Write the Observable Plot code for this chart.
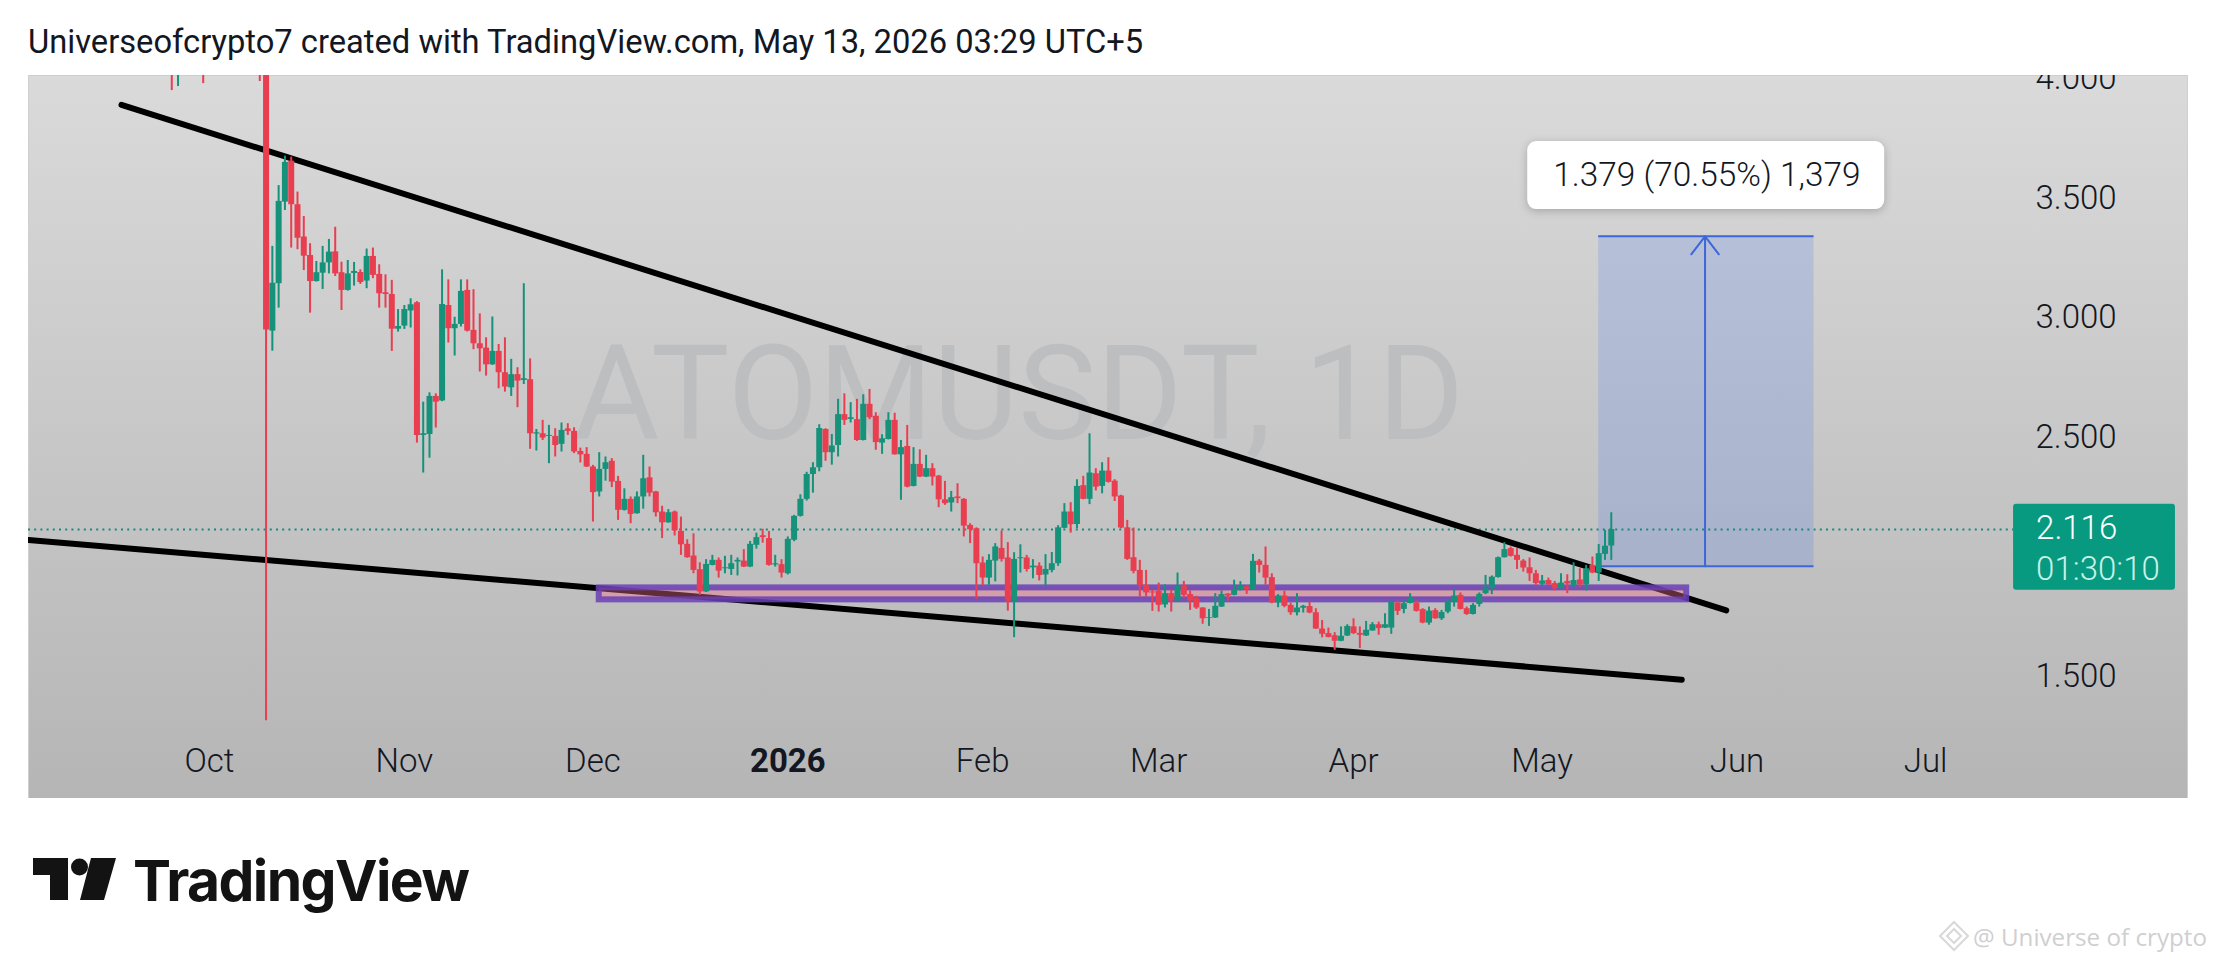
<!DOCTYPE html>
<html><head><meta charset="utf-8">
<script src="https://cdn.jsdelivr.net/npm/d3@7"></script>
<script src="https://cdn.jsdelivr.net/npm/@observablehq/plot@0.6"></script>
<style>
html,body{margin:0;padding:0;background:#fff;overflow:hidden}
#title{height:75px;box-sizing:border-box;padding:24px 0 0 28px;font:400 32.7px/36px Roboto,sans-serif;color:#131722;white-space:nowrap}
#chart{height:723px}
#chart svg{display:block}
#footer{position:relative;height:165px}
#footer .brand{position:absolute;left:133px;top:50px;font:700 57px/66px Inter,sans-serif;letter-spacing:-1.6px;color:#131313}
#footer svg{position:absolute}
#footer .wm{position:absolute;right:8px;top:125px;font:400 24.2px/28px "Open Sans",sans-serif;color:#cfcfcf;white-space:nowrap}
</style></head><body>
<div id="title">Universeofcrypto7 created with TradingView.com, May 13, 2026 03:29 UTC+5</div>
<div id="chart"></div>
<div id="footer">
<svg style="left:32px;top:60px" width="86" height="44" viewBox="0 0 86 44"><path d="M1 0H36V42H18V17H1Z M59 0H84L72 42H48Z" fill="#131313"/><circle cx="47.500" cy="9" r="8.500" fill="#131313"/></svg>
<div class="brand">TradingView</div>
<svg style="left:1938px;top:122px" width="32" height="32" viewBox="0 0 32 32" fill="none" stroke="#d8d8d8" stroke-width="2"><path d="M16 2L30 16L16 30L2 16Z M16 9L23 16L16 23L9 16Z"/></svg>
<div class="wm">@ Universe of crypto</div>
</div>
<script>
const startDate = Date.UTC(2025, 9, 10);
const opens = [
4.15,2.945,3.143,3.484,3.655,3.473,3.338,3.261,3.152,3.187,3.230,3.276,3.189,3.115,3.186,3.190,3.154,3.257,3.182,3.105,3.098,2.953,
2.966,3.029,3.063,2.509,2.513,2.672,2.653,3.052,2.955,2.973,3.115,2.948,2.892,2.874,2.804,2.860,2.771,2.708,2.763,2.739,2.742,2.515,2.516,2.505,2.505,2.472,2.536,2.526,2.442,2.430,
2.377,2.273,2.367,2.401,2.317,2.196,2.242,2.182,2.252,2.332,2.273,2.189,2.144,2.189,2.108,2.054,2.005,1.948,1.855,1.966,1.987,1.952,1.949,1.980,1.984,1.959,2.050,2.090,2.078,1.968,1.969,
1.931,2.071,2.171,2.242,2.346,2.374,2.534,2.437,2.467,2.596,2.576,2.575,2.488,2.639,2.589,2.477,2.492,2.572,2.428,2.463,2.296,2.388,2.335,2.370,2.339,2.240,2.227,2.252,2.242,2.133,2.119,
1.976,1.913,1.984,2.037,1.997,1.816,1.994,1.997,1.956,1.963,1.926,1.945,1.973,2.121,2.189,2.137,2.299,2.242,2.349,2.296,2.360,2.318,2.256,2.123,1.998,1.945,1.883,1.855,
1.858,1.801,1.848,1.817,1.879,1.844,1.827,1.788,1.745,1.746,1.792,1.846,1.841,1.862,1.876,1.865,1.984,1.966,1.915,1.809,1.838,1.799,1.768,1.787,1.794,1.768,1.700,1.681,1.672,1.649,1.671,
1.709,1.682,1.671,1.692,1.718,1.704,1.704,1.809,1.782,1.807,1.809,1.781,1.725,1.777,1.743,1.771,1.813,1.841,1.785,1.761,1.803,1.848,1.869,1.915,1.998,2.036,2.008,1.984,1.956,1.931,
1.887,1.903,1.890,1.869,1.899,1.883,1.905,1.885,1.966,1.934,2.012,2.047];
const highs = [
4.2,3.299,3.553,3.676,3.672,3.526,3.424,3.310,3.236,3.299,3.328,3.379,3.233,3.240,3.232,3.201,3.288,3.292,3.222,3.180,3.157,3.035,
3.052,3.080,3.068,2.648,2.687,2.683,3.201,3.159,3.003,3.159,3.159,3.118,3.017,2.917,3.004,2.889,2.917,2.827,2.792,3.143,2.829,2.534,2.572,2.551,2.537,2.561,2.558,2.541,2.456,2.458,
2.384,2.437,2.419,2.412,2.338,2.286,2.252,2.273,2.426,2.377,2.275,2.213,2.199,2.193,2.168,2.073,2.098,1.977,1.990,2.008,1.997,2.004,2.008,1.997,2.032,2.066,2.101,2.117,2.108,2.008,1.990,
2.085,2.175,2.261,2.355,2.395,2.554,2.537,2.513,2.660,2.683,2.646,2.660,2.679,2.701,2.604,2.512,2.604,2.602,2.488,2.551,2.458,2.449,2.426,2.391,2.342,2.317,2.275,2.307,2.245,2.140,2.123,
2.001,2.011,2.057,2.110,2.061,2.019,2.052,2.008,1.990,1.977,2.011,2.020,2.132,2.224,2.228,2.324,2.338,2.516,2.370,2.395,2.416,2.324,2.259,2.154,2.122,1.987,1.945,1.862,
1.892,1.885,1.862,1.934,1.899,1.859,1.837,1.789,1.782,1.848,1.859,1.848,1.904,1.898,1.879,2.012,1.991,2.043,1.931,1.844,1.858,1.809,1.848,1.799,1.813,1.785,1.736,1.704,1.685,1.709,1.718,
1.743,1.709,1.732,1.727,1.729,1.764,1.816,1.816,1.820,1.848,1.817,1.785,1.792,1.785,1.778,1.820,1.866,1.851,1.792,1.806,1.851,1.924,1.922,2.001,2.061,2.043,2.036,1.990,1.997,1.945,
1.924,1.913,1.899,1.931,1.927,1.977,1.952,1.966,2.001,2.053,2.112,2.186];
const lows = [
1.317,2.861,3.041,3.449,3.292,3.285,3.198,3.020,3.150,3.119,3.184,3.173,3.031,3.112,3.133,3.140,3.122,3.164,3.041,3.041,2.860,2.941,
2.952,2.958,2.477,2.352,2.414,2.540,2.650,2.895,2.841,2.962,2.941,2.867,2.774,2.757,2.802,2.704,2.690,2.672,2.625,2.722,2.451,2.444,2.488,2.391,2.419,2.440,2.509,2.433,2.394,2.375,
2.147,2.252,2.318,2.291,2.154,2.193,2.140,2.180,2.201,2.252,2.168,2.078,2.142,2.089,2.008,1.996,1.931,1.841,1.853,1.964,1.913,1.931,1.924,1.922,1.957,1.957,2.034,2.059,1.963,1.959,1.913,
1.926,2.065,2.168,2.235,2.268,2.357,2.401,2.385,2.419,2.551,2.561,2.484,2.486,2.575,2.447,2.430,2.490,2.427,2.238,2.290,2.294,2.333,2.333,2.298,2.207,2.217,2.189,2.224,2.085,2.057,1.824,
1.880,1.883,1.897,1.980,1.775,1.664,1.934,1.938,1.910,1.901,1.880,1.935,1.962,2.119,2.101,2.119,2.240,2.220,2.277,2.265,2.310,2.233,2.119,1.987,1.931,1.834,1.834,1.774,
1.771,1.788,1.771,1.815,1.827,1.778,1.782,1.720,1.711,1.744,1.790,1.817,1.839,1.859,1.845,1.863,1.934,1.883,1.806,1.789,1.789,1.757,1.755,1.767,1.764,1.699,1.663,1.663,1.611,1.647,1.669,
1.677,1.619,1.669,1.691,1.674,1.702,1.678,1.757,1.764,1.805,1.771,1.722,1.716,1.741,1.736,1.764,1.792,1.780,1.757,1.759,1.792,1.844,1.844,1.913,1.997,2.001,1.949,1.938,1.899,1.883,
1.880,1.883,1.859,1.867,1.848,1.869,1.873,1.859,1.931,1.899,1.987,1.987];
const closes = [
2.950,3.145,3.487,3.650,3.473,3.333,3.258,3.152,3.189,3.230,3.275,3.184,3.115,3.184,3.194,3.148,3.257,3.178,3.101,3.098,2.953,2.964,
3.035,3.055,2.509,2.516,2.672,2.648,3.056,2.955,2.973,3.111,2.945,2.892,2.871,2.804,2.860,2.771,2.711,2.763,2.736,2.746,2.516,2.520,2.498,2.509,2.467,2.530,2.526,2.440,2.428,2.377,
2.270,2.367,2.395,2.314,2.196,2.242,2.179,2.252,2.328,2.268,2.186,2.144,2.186,2.110,2.052,1.998,1.945,1.855,1.970,1.987,1.942,1.956,1.973,1.987,1.959,2.054,2.082,2.082,1.966,1.973,1.934,
2.075,2.171,2.242,2.346,2.374,2.538,2.437,2.465,2.596,2.572,2.583,2.488,2.639,2.583,2.479,2.495,2.572,2.428,2.458,2.293,2.388,2.335,2.370,2.335,2.240,2.224,2.249,2.245,2.130,2.115,1.973,
1.913,1.987,2.043,1.991,1.816,1.991,1.998,1.949,1.963,1.924,1.949,1.973,2.123,2.189,2.136,2.296,2.242,2.352,2.293,2.360,2.313,2.252,2.122,1.991,1.941,1.880,1.851,1.851,
1.799,1.848,1.817,1.879,1.841,1.817,1.788,1.743,1.748,1.795,1.844,1.838,1.866,1.879,1.865,1.983,1.966,1.913,1.809,1.838,1.795,1.768,1.788,1.795,1.767,1.700,1.678,1.665,1.649,1.670,1.711,
1.681,1.674,1.695,1.718,1.702,1.718,1.813,1.774,1.806,1.827,1.774,1.725,1.775,1.743,1.769,1.816,1.838,1.782,1.761,1.799,1.845,1.869,1.917,1.998,2.032,2.004,1.987,1.955,1.931,1.890,
1.901,1.885,1.869,1.892,1.888,1.903,1.885,1.952,1.934,2.015,2.046,2.116];

// Candles of late September and 9 October: only their lower wicks reach into view
const earlyDates = ["2025-09-25","2025-09-26","2025-09-30","2025-10-09"];
const earlyOpens = [4.25,4.10,4.20,4.20];
const earlyHighs = [4.30,4.30,4.30,4.30];
const earlyLows = [3.950,3.967,3.979,3.988];
const earlyCloses = [4.10,4.20,4.10,4.10];

const yTicks = [1.5,2.5,3,3.5,4];
const monthTicks = ["2025-10-01","2025-11-01","2025-12-01","2026-02-01","2026-03-01","2026-04-01","2026-05-01","2026-06-01","2026-07-01"];
const yearTicks = ["2026-01-01"];
const monthNames = ["Jan","Feb","Mar","Apr","May","Jun","Jul","Aug","Sep","Oct","Nov","Dec"];

const upperTrend = [{t:"2025-09-17T00:00Z",p:3.890},{t:"2026-05-30T07:00Z",p:1.778}];
const lowerTrend = [{t:"2025-09-02T05:00Z",p:2.072},{t:"2026-05-23T05:00Z",p:1.488}];
const supportZone = {t1:"2025-12-02T00:00Z",t2:"2026-05-24T00:00Z",p1:1.822,p2:1.872};
const target = {t1:"2026-05-10T00:00Z",t2:"2026-06-13T06:00Z",tm:"2026-05-26T22:00Z",p1:1.962,p2:3.341};
const targetText = "1.379 (70.55%) 1,379";
const targetBox = {t1:"2026-04-28T17:00Z",t2:"2026-06-24T12:00Z",p1:3.453,p2:3.737};
const lastPrice = 2.116, countdown = "01:30:10";
const tagBox = {t1:"2026-07-15T00:00Z",t2:"2026-08-09T18:00Z",p1:1.862,p2:2.221};
const tagTextDate = "2026-07-18T14:00Z", tagCountdownPrice = 1.950;
const watermark = "ATOMUSDT, 1D";

const D = s => new Date(s);
const candles = [
  ...earlyDates.map((d,i)=>({date:D(d),o:earlyOpens[i],h:earlyHighs[i],l:earlyLows[i],c:earlyCloses[i]})),
  ...opens.map((o,i)=>({date:new Date(startDate+i*864e5),o,h:highs[i],l:lows[i],c:closes[i]}))
];
const RED="#e83e50", GREEN="#16917a", BLUE="#3d66d8";
const colorOf = d => d.c>=d.o ? GREEN : RED;
const ax = {tickSize:0, fontSize:33, fontWeight:300, fill:"#131722"};

const plot = Plot.plot({
  width:2215, height:723, marginLeft:28, marginRight:28, marginTop:0, marginBottom:0,
  style:{fontFamily:"Roboto, sans-serif", background:"transparent", overflow:"hidden"},
  x:{type:"utc", domain:[D("2025-09-02T05:00Z"), D("2026-08-11T16:00Z")]},
  y:{type:"linear", domain:[0.992,4.013], range:[723,0]},
  marks:[
    Plot.frame({fill:"url(#panelGrad)", stroke:"#cfcfcf"}),
    Plot.text([watermark],{x:()=>D("2026-02-06T18:00Z"),y:()=>2.668,text:d=>d,fontSize:131.500,fontWeight:400,fill:"#bcbec0",lineAnchor:"middle",textAnchor:"middle"}),
    Plot.axisX(monthTicks.map(D),{...ax,anchor:"bottom",tickPadding:0,dy:-37,lineAnchor:"middle",tickFormat:d=>monthNames[d.getUTCMonth()],label:null}),
    Plot.axisX(yearTicks.map(D),{...ax,fontWeight:700,anchor:"bottom",tickPadding:0,dy:-37,lineAnchor:"middle",tickFormat:d=>String(d.getUTCFullYear()),label:null}),
    Plot.axisY(yTicks,{...ax,anchor:"right",tickPadding:0,dx:-152,dy:0,tickFormat:d3.format(".3f"),label:null}),
    Plot.rect([target],{x1:d=>D(d.t1),x2:d=>D(d.t2),y1:"p1",y2:"p2",fill:"#2962ff",fillOpacity:0.16}),
    Plot.ruleY([target.p1,target.p2],{x1:D(target.t1),x2:D(target.t2),stroke:BLUE,strokeWidth:2}),
    Plot.ruleY([lastPrice],{x1:D("2025-09-02T05:00Z"),x2:D(tagBox.t1),stroke:"#1a8a78",strokeWidth:2,strokeDasharray:"2 4.200"}),
    Plot.arrow([target],{x:d=>D(d.tm),y1:"p1",y2:"p2",stroke:BLUE,strokeWidth:2,headLength:17,headAngle:75,bend:0}),
    Plot.line(upperTrend,{x:d=>D(d.t),y:"p",stroke:"#000",strokeWidth:6,strokeLinecap:"round"}),
    Plot.line(lowerTrend,{x:d=>D(d.t),y:"p",stroke:"#000",strokeWidth:6,strokeLinecap:"round",clip:"frame"}),
    Plot.rect([supportZone],{x1:d=>D(d.t1),x2:d=>D(d.t2),y1:"p1",y2:"p2",fill:"#f0708a",fillOpacity:0.4,stroke:"#6a3fb5",strokeOpacity:0.85,strokeWidth:6}),
    Plot.ruleX(candles,{x:"date",y1:"l",y2:"h",stroke:colorOf,strokeWidth:2}),
    Plot.ruleX(candles,{x:"date",y1:"o",y2:"c",stroke:colorOf,strokeWidth:6}),
    Plot.rect([targetBox],{x1:d=>D(d.t1),x2:d=>D(d.t2),y1:"p1",y2:"p2",fill:"#fff",rx:9,imageFilter:"drop-shadow(0 2px 4px rgba(0,0,0,.22))"}),
    Plot.text([targetText],{x:()=>D("2026-05-27T05:00Z"),y:()=>3.595,text:d=>d,fontSize:33.400,fontWeight:300,fill:"#131722",lineAnchor:"middle"}),
    Plot.rect([tagBox],{x1:d=>D(d.t1),x2:d=>D(d.t2),y1:"p1",y2:"p2",fill:"#089981",rx:3}),
    Plot.text([lastPrice],{x:()=>D(tagTextDate),y:()=>lastPrice,text:d=>d.toFixed(3),fontSize:33,fontWeight:300,fill:"#fff",textAnchor:"start",lineAnchor:"middle",dy:-1}),
    Plot.text([countdown],{x:()=>D(tagTextDate),y:()=>tagCountdownPrice,text:d=>d,fontSize:33,fontWeight:300,fill:"#c8f2e6",textAnchor:"start",lineAnchor:"middle"})
  ]
});
d3.select(plot).insert("defs",":first-child").html(
 '<linearGradient id="panelGrad" x1="0" y1="0" x2="0" y2="1"><stop offset="0" stop-color="#dadada"/><stop offset="1" stop-color="#b5b5b5"/></linearGradient>');
document.getElementById("chart").append(plot);
</script>
</body></html>
